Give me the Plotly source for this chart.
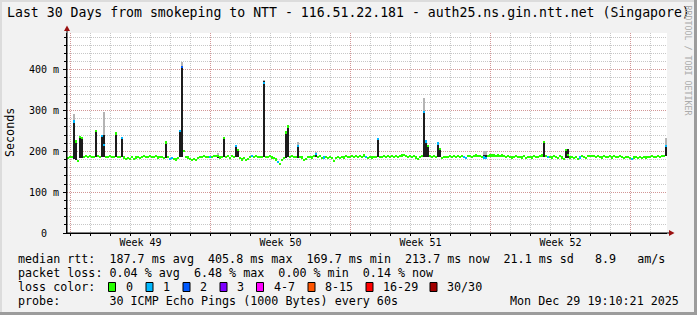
import plotly.graph_objects as go

# ---------------- data ----------------
STEP_DAYS = 0.1          # one consolidated sample every 2.4 h
SPAN_DAYS = 30

# median rtt (ms) per step
median_ms = [
    184, 186, 187, 273, 224, 177, 236, 232, 186, 188,
    187, 188, 186, 187, 249, 188, 187, 238, 216, 186,
    187, 188, 186, 187, 244, 186, 187, 232, 185, 181,
    184, 182, 186, 181, 185, 187, 183, 186, 188, 186,
    187, 189, 186, 187, 188, 185, 187, 186, 183, 222,
    186, 182, 184, 181, 180, 183, 250, 405.8, 200, 186,
    185, 181, 179, 182, 178, 184, 187, 186, 188, 186,
    186, 187, 186, 188, 189, 188, 185, 187, 233, 186,
    188, 184, 189, 186, 214, 204, 183, 180, 183, 178,
    182, 186, 188, 187, 188, 187, 186, 187, 368, 186,
    187, 188, 185, 184, 180, 174, 169.7, 178, 184, 246,
    261, 187, 188, 186, 187, 214, 186, 185, 178, 182,
    186, 187, 185, 188, 194, 187, 188, 184, 185, 186,
    183, 187, 184, 177, 183, 186, 184, 187, 185, 188,
    187, 186, 188, 187, 189, 186, 188, 187, 190, 186,
    183, 186, 185, 187, 186, 231, 187, 186, 188, 187,
    189, 186, 188, 187, 189, 186, 188, 190, 191, 188,
    187, 189, 186, 188, 185, 181, 187, 188, 297, 224,
    213, 188, 187, 188, 187, 219, 206, 183, 186, 187,
    186, 188, 187, 189, 186, 188, 187, 189, 186, 184,
    188, 189, 187, 188, 190, 188, 189, 187, 185, 184,
    189, 190, 190, 190, 189, 190, 189, 190, 188, 187,
    188, 186, 185, 187, 188, 186, 187, 185, 188, 183,
    186, 187, 185, 188, 187, 186, 188, 190, 223, 188,
    186, 187, 185, 188, 186, 184, 188, 185, 182, 204,
    192, 185, 187, 184, 186, 182, 185, 188, 187, 184,
    188, 189, 188, 189, 187, 188, 186, 185, 188, 186,
    187, 189, 185, 188, 186, 187, 189, 186, 184, 187,
    186, 184, 182, 185, 187, 184, 186, 183, 187, 185,
    187, 186, 188, 187, 186, 188, 187, 188, 189, 213.7,
]

# steps with lost packets (index, packets lost of 30)
loss_step = [3, 17, 18, 27, 51, 52, 56, 57, 71, 84, 92, 98, 105, 115, 124,
             128, 149, 155, 178, 179, 185, 198, 199, 208, 209, 240, 256, 282, 299]
loss_count = [1, 1, 1, 1, 1, 1, 1, 2, 1, 1, 1, 1, 1, 1, 1,
              1, 1, 1, 1, 1, 1, 1, 1, 1, 1, 1, 1, 1, 1]

# smoke (spread of the 30 pings) where it stands out from the median
smoke_step = [3, 4, 6, 7, 14, 17, 18, 24, 27, 49, 56, 57, 75, 78, 84, 85, 98,
              109, 110, 115, 124, 155, 178, 179, 180, 185, 186, 208, 209, 238,
              249, 250, 299]
smoke_lo = [182, 178, 184, 184, 185, 186, 186, 185, 185, 184, 185, 185, 186, 185, 185, 185, 185,
            183, 185, 184, 186, 185, 186, 186, 186, 185, 185, 184, 184, 186,
            184, 184, 188]
smoke_hi = [276, 226, 238, 236, 251, 240, 240, 246, 234, 225, 253, 409, 190, 235, 216, 206, 372,
            248, 262, 216, 196, 233, 300, 226, 214, 221, 208, 190, 190, 225,
            205, 206, 216]
smoke_max = [292, 226, 238, 236, 251, 240, 296, 246, 234, 225, 253, 420, 197, 235, 216, 206, 374,
             248, 262, 224, 198, 233, 331, 226, 214, 221, 208, 202, 200, 225,
             205, 206, 233]

week_labels = ["Week 49", "Week 50", "Week 51", "Week 52", ""]
week_start_days = [0.175, 7.175, 14.175, 21.175, 28.175]
y_tick_vals = [0, 100, 200, 300, 400]
y_tick_text = ["0\u00a0\u00a0", "100 m", "200 m", "300 m", "400 m"]

rtt_stat_names = ["avg", "max", "min", "now"]
rtt_stat_vals = [187.7, 405.8, 169.7, 213.7]
rtt_sd = 21.1
rtt_amps = 8.9
loss_stat_names = ["avg", "max", "min", "now"]
loss_stat_vals = [0.04, 6.48, 0.00, 0.14]
loss_legend_labels = ["0", "1", "2", "3", "4-7", "8-15", "16-29", "30/30"]
loss_legend_colors = ["#26ff00", "#00b8ff", "#0059ff", "#7e00ff", "#ff00ff",
                      "#ff5500", "#ff0000", "#a10000"]
probe_text = "30 ICMP Echo Pings (1000 Bytes) every 60s"
stamp_text = "Mon Dec 29 19:10:21 2025"
title_text = "Last 30 Days from smokeping to NTT - 116.51.22.181 - auth25.ns.gin.ntt.net (Singapore)"

# ---------------- layout helpers ----------------
W, H = 697, 315
L, R, T, B = 67, 30, 33, 82
PW, PH = W - L - R, H - T - B
MONO = "DejaVu Sans Mono"
MINOR_GRID = "rgba(143,143,143,0.5)"
MAJOR_GRID = "rgba(225,90,90,0.45)"
DAY_PX = PW / SPAN_DAYS


def px(x):
    return (x - L) / PW


def py(y):
    return (H - B - y) / PH


def nb(s):
    return s.replace(" ", "\u00a0")


times = [STEP_DAYS * (i + 0.5) for i in range(len(median_ms))]
loss_of = dict(zip(loss_step, loss_count))
band_colors = {0: "#26ff00", 1: "#00b8ff", 2: "#0059ff"}
BAND = 5.5  # ms thickness of median band

fig = go.Figure()

# smoke: light tail
tail_x, tail_b, tail_h = [], [], []
for s, hi, mx in zip(smoke_step, smoke_hi, smoke_max):
    if mx > hi:
        tail_x.append(times[s]); tail_b.append(hi); tail_h.append(mx - hi)
fig.add_trace(go.Bar(x=tail_x, y=tail_h, base=tail_b, width=STEP_DAYS,
                     marker=dict(color="#b4b4b4", line=dict(width=0)),
                     hoverinfo="skip", showlegend=False))
# smoke: dark body
fig.add_trace(go.Bar(x=[times[s] for s in smoke_step],
                     y=[h - l for l, h in zip(smoke_lo, smoke_hi)],
                     base=smoke_lo, width=STEP_DAYS,
                     marker=dict(color="#1c1c1c", line=dict(width=0)),
                     hoverinfo="skip", showlegend=False))
# median bands by loss colour
for lc, col in band_colors.items():
    idx = [i for i in range(len(median_ms)) if loss_of.get(i, 0) == lc]
    fig.add_trace(go.Bar(x=[times[i] for i in idx],
                         y=[BAND] * len(idx),
                         base=[median_ms[i] - BAND / 2 for i in idx],
                         width=STEP_DAYS,
                         marker=dict(color=col, line=dict(width=0)),
                         hoverinfo="skip", showlegend=False))

fig.update_layout(
    width=W, height=H, margin=dict(l=L, r=R, t=T, b=B, pad=0),
    paper_bgcolor="#f2f2f2", plot_bgcolor="#ffffff",
    barmode="overlay", bargap=0, showlegend=False,
    font=dict(family=MONO, size=10, color="#000000"),
    xaxis=dict(range=[0, SPAN_DAYS], tickmode="array", tickvals=week_start_days,
               ticktext=week_labels, ticks="", ticklabelshift=int(round(3.5 * DAY_PX)),
               showgrid=True, gridcolor=MAJOR_GRID, griddash="1px,1px", gridwidth=1,
               zeroline=False,
               showline=True, linecolor="#000000", linewidth=1,
               tickfont=dict(family=MONO, size=10),
               minor=dict(tick0=week_start_days[0], dtick=1, showgrid=True,
                          gridcolor=MINOR_GRID, griddash="1px,1px",
                          gridwidth=1, ticks="outside", ticklen=2, tickcolor="#000000")),
    yaxis=dict(range=[0, 490], tickmode="array", tickvals=y_tick_vals,
               ticktext=y_tick_text, ticks="outside", ticklen=3, tickcolor="#000000",
               ticklabelstandoff=2,
               showgrid=True, gridcolor=MAJOR_GRID, griddash="1px,1px",
               zeroline=False, showline=True, linecolor="#000000", linewidth=1,
               tickfont=dict(family=MONO, size=10),
               minor=dict(dtick=20, showgrid=True, gridcolor=MINOR_GRID,
                          griddash="1px,1px", gridwidth=1, ticks="outside",
                          ticklen=2, tickcolor="#000000")),
)

shapes = []
# axis extensions + arrows
shapes.append(dict(type="line", xref="paper", yref="paper", x0=px(L), x1=px(L),
                   y0=py(H - B), y1=py(29), line=dict(color="#000000", width=1)))
shapes.append(dict(type="line", xref="paper", yref="paper", x0=px(L), x1=px(670),
                   y0=py(H - B), y1=py(H - B), line=dict(color="#000000", width=1)))
shapes.append(dict(type="path", xref="paper", yref="paper",
                   path=f"M {px(L - 3)},{py(31)} L {px(L + 3)},{py(31)} L {px(L)},{py(25.5)} Z",
                   fillcolor="#9a1010", line=dict(width=0)))
shapes.append(dict(type="path", xref="paper", yref="paper",
                   path=f"M {px(669)},{py(H - B - 3)} L {px(669)},{py(H - B + 3)} L {px(674.5)},{py(H - B)} Z",
                   fillcolor="#9a1010", line=dict(width=0)))
# 3D frame
shapes.append(dict(type="rect", xref="paper", yref="paper", x0=px(0), x1=px(2), y0=py(H), y1=py(0),
                   fillcolor="#dcdcdc", line=dict(width=0)))
shapes.append(dict(type="rect", xref="paper", yref="paper", x0=px(0), x1=px(W), y0=py(2), y1=py(0),
                   fillcolor="#dcdcdc", line=dict(width=0)))
shapes.append(dict(type="rect", xref="paper", yref="paper", x0=px(W - 3), x1=px(W), y0=py(H), y1=py(0),
                   fillcolor="#9c9c9c", line=dict(width=0)))
shapes.append(dict(type="rect", xref="paper", yref="paper", x0=px(0), x1=px(W), y0=py(H), y1=py(H - 3),
                   fillcolor="#9c9c9c", line=dict(width=0)))

annos = []


def text(x, y, s, size=11.7, anchor="left", color="#000000", angle=0):
    annos.append(dict(x=px(x), y=py(y), xref="paper", yref="paper", text=nb(s),
                      showarrow=False, xanchor=anchor, yanchor="middle", textangle=angle,
                      font=dict(family=MONO, size=size, color=color)))


text(4.5, 12, title_text, size=13.2)
text(687.5, 60, "RRDTOOL / TOBI OETIKER", size=8.3, anchor="center", color="#ababab", angle=90)
text(10, 133, "Seconds", size=11.7, anchor="center", angle=-90)

row1 = "median rtt:  " + "  ".join(f"{v:.1f} ms {n}" for v, n in zip(rtt_stat_vals, rtt_stat_names)) \
       + f"  {rtt_sd:.1f} ms sd   {rtt_amps:.1f}   am/s"
row2 = "packet loss: " + "  ".join(f"{v:.2f} % {n}" for v, n in zip(loss_stat_vals, loss_stat_names))
text(16, 259, row1)
text(16, 273, row2)
text(16, 287, "loss color:")
text(16, 301, "probe:       " + probe_text)
text(681, 301, stamp_text, anchor="right")

box_x = [108.5, 146, 183, 220, 256.5, 308, 366, 430]
for bx, lab, col in zip(box_x, loss_legend_labels, loss_legend_colors):
    shapes.append(dict(type="rect", xref="paper", yref="paper", x0=px(bx), x1=px(bx + 7),
                       y0=py(291.5), y1=py(282.5), fillcolor=col,
                       line=dict(color="#000000", width=1)))
    text(bx + 15, 287, lab)

fig.update_layout(shapes=shapes, annotations=annos)
fig.write_html("out.html")
